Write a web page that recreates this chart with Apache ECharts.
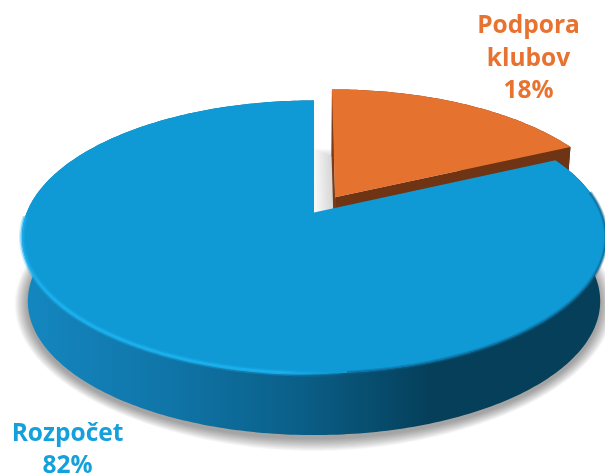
<!DOCTYPE html>
<html><head><meta charset="utf-8">
<style>html,body{margin:0;padding:0;background:#fff}#c{width:605px;height:476px}</style>
<script src="https://cdn.jsdelivr.net/npm/echarts@6/dist/echarts.min.js"></script>
</head><body><div id="c"></div>
<script>
const categories = ['Podpora klubov', 'Rozpočet'];
const values = [18, 82];
const labelLines = [['Podpora', 'klubov'], ['Rozpočet']];
const colors = ['#E67230', '#0F9AD6'];
const labelColors = ['#E8722F', '#14A0DA'];

// projection of the tilted disc
const CX = 314, AY = 212.5, S = 287.3, A = 94.05, R = 0.1795;
const CY = 236.5, DEPTH_CY = 300.7, DEPTH_SCALE = 0.98, EXPLODE = 0.14;
const labelPos = [[528.5, 59], [67.5, 450]];
const total = values.reduce((a, b) => a + b, 0);

function topPoint(theta, ox, oy) {
  const x = Math.sin(theta) + ox, y = Math.cos(theta) + oy, d = 1 + R * y;
  return [CX + S * x / d, (AY - A * y) / d];
}
function apex(ox, oy) {
  const d = 1 + R * oy;
  return [CX + S * ox / d, (AY - A * oy) / d];
}
function low(p) {
  return [CX + (p[0] - CX) * DEPTH_SCALE, DEPTH_CY + (p[1] - CY) * DEPTH_SCALE];
}
function rim(a, b, ox, oy) {
  const n = Math.max(8, Math.ceil(Math.abs(b - a) * 60)), pts = [];
  for (let i = 0; i <= n; i++) pts.push(topPoint(a + (b - a) * i / n, ox, oy));
  return pts;
}
function grow(p, k, dy) {
  const dx = p[0] - CX, dyy = p[1] - DEPTH_CY, len = Math.hypot(dx, dyy) || 1;
  return [p[0] + dx / len * k, p[1] + dyy / len * k + dy];
}
const lg = (stops) => new echarts.graphic.LinearGradient(0, 0, 1, 0,
  stops.map(s => ({offset: s[0], color: s[1]})));

function renderItem(params, api) {
  const i = params.dataIndex;
  const before = values.slice(0, i).reduce((a, b) => a + b, 0);
  const a0 = before / total * 2 * Math.PI;
  const a1 = (before + api.value(0)) / total * 2 * Math.PI;
  const mid = (a0 + a1) / 2;
  const exploded = i === 0;
  const ox = exploded ? Math.sin(mid) * EXPLODE : 0;
  const oy = exploded ? Math.cos(mid) * EXPLODE : 0;
  const rimPts = rim(a0, a1, ox, oy);
  const ap = apex(ox, oy);
  const children = [];

  const sideFill = exploded ? '#6E3413' :
    lg([[0, '#1487C0'], [0.25, '#1075A8'], [0.475, '#0A5F88'], [0.7, '#053F5A'], [1, '#053F5A']]);
  const sidePts = rimPts.concat(rimPts.map(low).reverse());
  const bottomSector = [low(ap)].concat(rimPts.map(low));

  // soft ground shadow, built up in layers
  if (exploded) {
    for (let k = 20; k >= 1; k -= 2) {
      children.push({type: 'polygon',
        shape: {points: bottomSector.map(p => [p[0] - k, p[1] - k * 0.4])},
        style: {fill: 'rgba(0,0,0,0.016)'}});
    }
  } else {
    const frontLow = rim(Math.PI * 0.42, Math.PI * 1.56, 0, 0).map(low);
    for (let k = 13; k >= 1; k--) {
      children.push({type: 'polygon',
        shape: {points: frontLow.map(p => grow(p, k, 3))},
        style: {fill: 'rgba(0,0,0,0.03)'}});
    }
  }
  children.push({type: 'polygon', shape: {points: sidePts}, style: {fill: sideFill}});
  if (exploded) {
    const cut = [ap, rimPts[rimPts.length - 1], low(rimPts[rimPts.length - 1]), low(ap)];
    children.push({type: 'polygon', shape: {points: cut}, style: {fill: '#6E3413'}});
    const cut2 = [ap, rimPts[0], low(rimPts[0]), low(ap)];
    children.push({type: 'polygon', shape: {points: cut2}, style: {fill: '#7A3B16'}});
  }
  children.push({type: 'polygon', shape: {points: [ap].concat(rimPts)},
    style: {fill: colors[i]}});
  if (!exploded) {
    // bevel highlight on the front rim
    const front = rim(Math.PI * 0.97, Math.PI * 1.49, 0, 0);
    const bevel = (alpha) => new echarts.graphic.LinearGradient(0, 0, 1, 0, [
      {offset: 0, color: `rgba(27,178,240,${alpha * 0.7})`},
      {offset: 0.1, color: `rgba(27,178,240,${alpha})`},
      {offset: 0.8, color: `rgba(27,178,240,${alpha})`},
      {offset: 1, color: 'rgba(15,154,214,0)'}
    ]);
    children.push({type: 'polyline', shape: {points: front},
      style: {fill: 'none', lineWidth: 6, stroke: bevel(0.3)}});
    children.push({type: 'polyline', shape: {points: front},
      style: {fill: 'none', lineWidth: 3, stroke: bevel(0.85)}});
    const rightEdge = rim(Math.PI * 0.45, Math.PI * 0.97, 0, 0);
    children.push({type: 'polyline', shape: {points: rightEdge},
      style: {fill: 'none', lineWidth: 4, stroke: 'rgba(10,100,145,0.35)'}});
    children.push({type: 'polyline', shape: {points: rightEdge},
      style: {fill: 'none', lineWidth: 2, stroke: 'rgba(10,100,145,0.5)'}});
  }
  const pct = Math.round(api.value(0) / total * 100) + '%';
  children.push({type: 'text', z2: 10, style: {
    text: labelLines[i].concat(pct).join('\n'),
    x: labelPos[i][0], y: labelPos[i][1], fill: labelColors[i],
    fontFamily: '"Open Sans"', fontWeight: 700, fontSize: 24.5, lineHeight: 32.5,
    align: 'center', verticalAlign: 'middle'
  }});
  return {type: 'group', children};
}

const chart = echarts.init(document.getElementById('c'), null, {renderer: 'canvas'});
chart.setOption({
  animation: false,
  backgroundColor: '#ffffff',
  series: [{
    type: 'custom',
    coordinateSystem: 'none',
    renderItem,
    data: categories.map((c, i) => ({name: c, value: values[i]}))
  }]
});
</script></body></html>
